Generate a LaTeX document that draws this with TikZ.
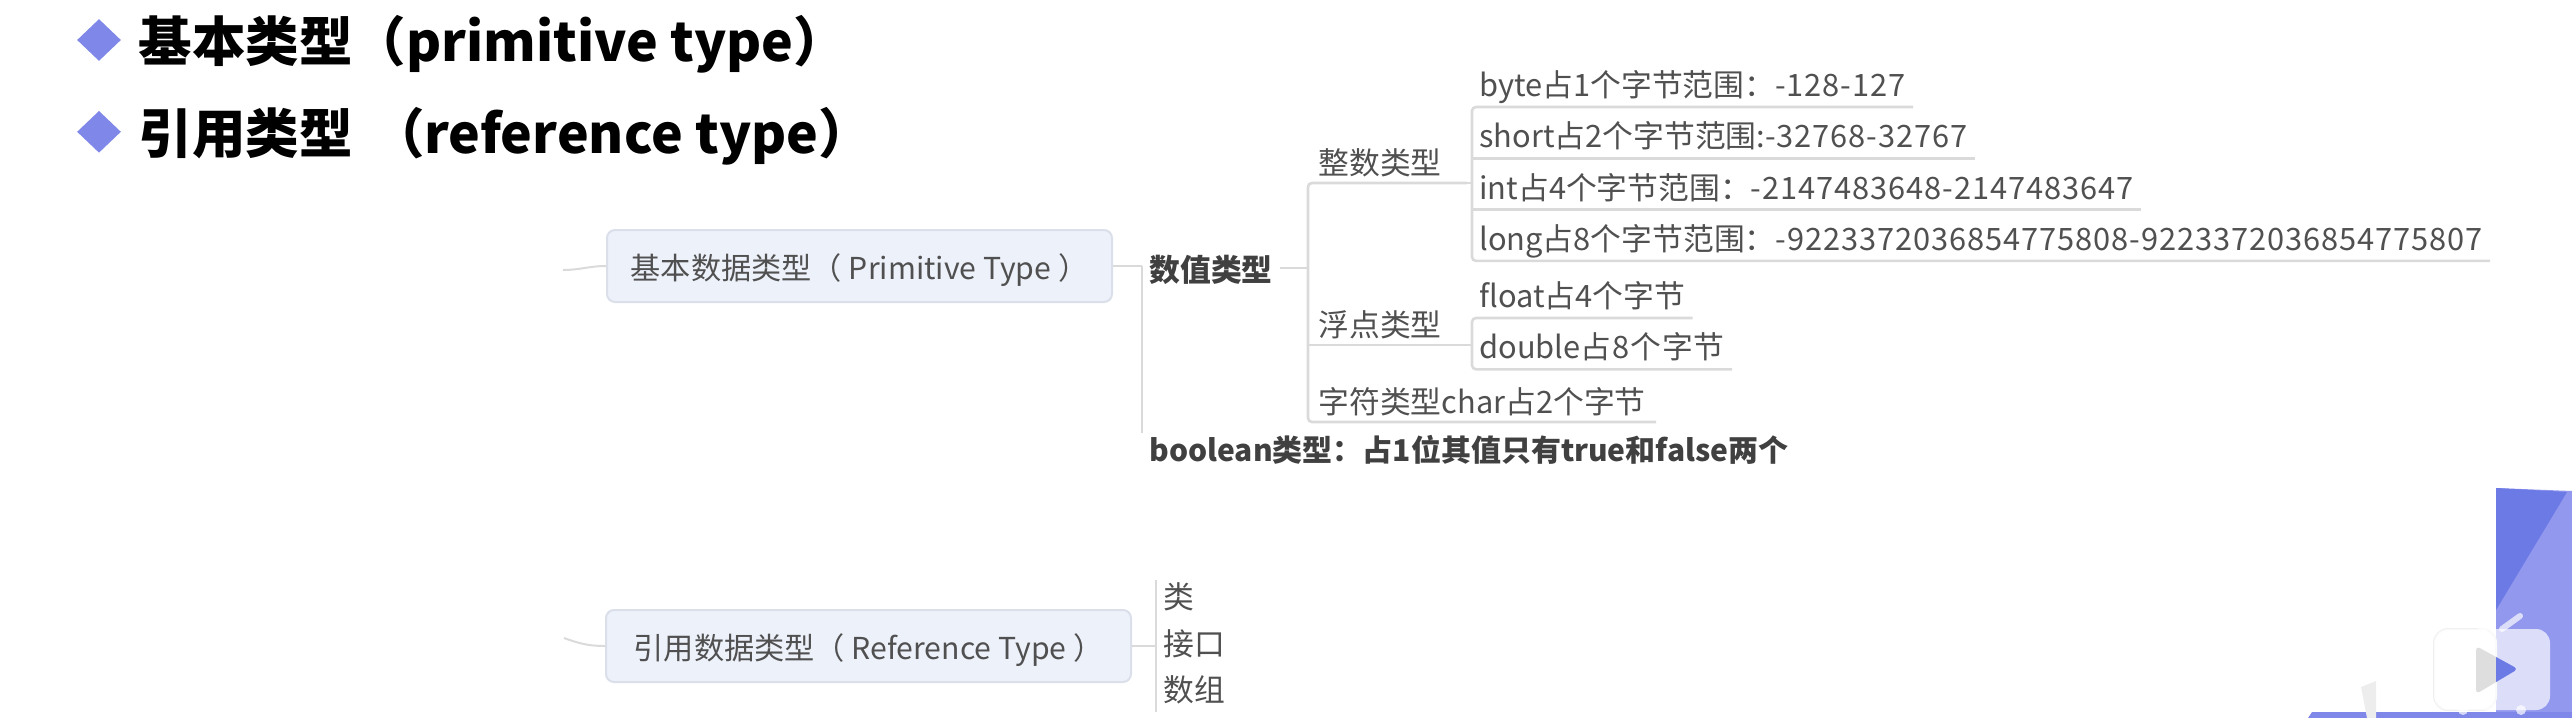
\documentclass[tikz,border=0pt]{standalone}
\usepackage{fontspec}
\setmainfont{Noto Sans CJK SC}
\newfontfamily\spacedfont[LetterSpace=3]{Noto Sans CJK SC}
\usepackage{xcolor}
\usetikzlibrary{positioning,shapes.geometric}
\definecolor{inkgray}{HTML}{505050}
\definecolor{linegray}{HTML}{DADADA}
\definecolor{boxfill}{HTML}{EDF1FA}
\definecolor{boxline}{HTML}{DADFEA}
\definecolor{markblue}{HTML}{7F87E8}
\definecolor{deepblue}{HTML}{6C7AE6}
\definecolor{softblue}{HTML}{9298EE}

\begin{document}
\begin{tikzpicture}[
    x=0.5pt, y=-0.5pt,
    bullet/.style={diamond, fill=markblue, inner sep=0pt, minimum width=22pt, minimum height=21pt},
    heading/.style={inner sep=0pt, yshift=-2pt, font=\fontsize{26.75}{30}\selectfont\bfseries, text=black},
    typebox/.style={rectangle, draw=boxline, fill=boxfill, rounded corners=4pt, line width=1pt,
        minimum height=36pt, text height=16.4pt, text depth=3pt,
        font=\fontsize{15.1}{18}\selectfont, text=inkgray},
    leaf/.style={inner ysep=0pt, inner xsep=3.5pt, text height=14pt, text depth=5pt,
        font=\fontsize{15.4}{18}\selectfont, text=inkgray},
    branch/.style={leaf, inner xsep=5pt, text depth=4pt, text height=15pt},
    strong/.style={leaf, font=\fontsize{15.4}{18}\selectfont\bfseries, text=black!75},
    link/.style={draw=linegray, line width=1pt},
    rule/.style={draw=linegray, line width=1.3pt, rounded corners=2pt}
]
    \useasboundingbox (0,0) rectangle (2572,718);

    % headings
    \node[bullet] (markA) at (99,40) {};
    \node[bullet, below=24.5pt of markA] (markB) {};
    \node[heading, right=8.5pt of markA] (headA) {基本类型（primitive type）};
    \node[heading, right=8.5pt of markB] (headB) {引用类型 \kern3pt（reference type）};

    % primitive types
    \node[typebox, minimum width=252.5pt] (primbox) at (859.5,266) {基本数据类型（ Primitive Type ）};
    \coordinate (primroot) at (563,270);
    \node[strong, anchor=west] (num) at (1142,272) {数值类型};
    \node[strong, anchor=west, font=\fontsize{15}{18}\selectfont\bfseries] (bool) at (1142,452) {boolean类型：占1位其值只有true和false两个};

    \node[branch, text width=69pt, anchor=south west] (intg) at (1308,183) {整数类型};
    \node[branch, text width=69pt, anchor=south west] (flt) at (1308,345) {浮点类型};
    \node[branch, anchor=south west] (chr) at (1308,422) {字符类型char占2个字节};

    \node[leaf, anchor=south west] (byte) at (1472,107) {byte占1个字节范围：{\spacedfont -128-127}};
    \node[leaf, below=6.25pt of byte.south west, anchor=north west] (short) {short占2个字节范围:{\spacedfont -32768-32767}};
    \node[leaf, below=6.25pt of short.south west, anchor=north west] (int) {int占4个字节范围：{\spacedfont -2147483648-2147483647}};
    \node[leaf, below=6.25pt of int.south west, anchor=north west] (long) {long占8个字节范围：{\spacedfont -9223372036854775808-9223372036854775807}};
    \node[leaf, anchor=south west] (float) at (1472,318) {float占4个字节};
    \node[leaf, below=6.25pt of float.south west, anchor=north west] (double) {double{\spacedfont 占8个字节}};

    \draw[link] (primroot) to[out=0, in=180] (primbox.west);
    \draw[link] (primbox.east) -- (primbox.east -| num.west);
    \draw[link] (primbox.east -| num.west) -- (bool.north west);
    \draw[link] ([yshift=2pt]num.east) -- ([yshift=2pt]num.east -| intg.west);
    \draw[rule] (intg.south east) -- (intg.south west) -- (chr.south west) -- (chr.south east);
    \draw[rule] (flt.south west) -- (flt.south east);
    \draw[link] (intg.south east) -- (intg.south east -| byte.west);
    \draw[link] (flt.south east) -- (flt.south east -| float.west);
    \draw[rule] (byte.south east) -- (byte.south west) -- (long.south west) -- (long.south east);
    \draw[rule] (short.south west) -- (short.south east);
    \draw[rule] (int.south west) -- (int.south east);
    \draw[rule] (float.south east) -- (float.south west) -- (double.south west) -- (double.south east);

    % reference types
    \node[typebox, minimum width=262.5pt] (refbox) at (868.5,646) {引用数据类型（ Reference Type ）};
    \coordinate (refroot) at (564,638);
    \node[leaf, anchor=west] (iface) at (1156,646) {接口};
    \node[leaf, above=4pt of iface.north west, anchor=south west] (cls) {类};
    \node[leaf, below=4pt of iface.south west, anchor=north west] (arr) {数组};

    \draw[link] (refroot) to[out=-20, in=180] (refbox.west);
    \draw[link] (refbox.east) -- (iface.west);
    \draw[link] (cls.north west) -- (arr.south west);

    % slide corner and player logo
    \fill[softblue] (2496,488) -- (2572,491) -- (2572,718) -- (2496,718) -- cycle;
    \fill[deepblue] (2496,488) -- (2567,492) -- (2496,610) -- cycle;
    \fill[markblue] (2312,712) -- (2572,712) -- (2572,718) -- (2308,718) -- cycle;
    \fill[black!7] (2361,687) -- (2376,681) -- (2376,718) -- (2367,718) -- cycle;
    \draw[black!6, line width=1pt, rounded corners=7pt] (2434,629) rectangle (2496,710);
    \begin{scope}[white, opacity=0.68]
        \fill[rounded corners=7pt] (2434,629) rectangle (2550,710);
        \draw[line width=3pt, line cap=round] (2465,616) -- (2484,629);
        \draw[line width=3pt, line cap=round] (2520,616) -- (2502,629);
        \fill (2463,710) circle (5);
        \fill (2521,710) circle (5);
    \end{scope}
    \begin{scope}
        \clip (2434,629) rectangle (2496,710);
        \fill[black!13, rounded corners=2pt] (2476,646) -- (2476,694) -- (2518,669) -- cycle;
    \end{scope}
    \begin{scope}
        \clip (2496,629) rectangle (2550,710);
        \fill[deepblue, rounded corners=2pt] (2476,646) -- (2476,694) -- (2518,669) -- cycle;
    \end{scope}
\end{tikzpicture}
\end{document}
